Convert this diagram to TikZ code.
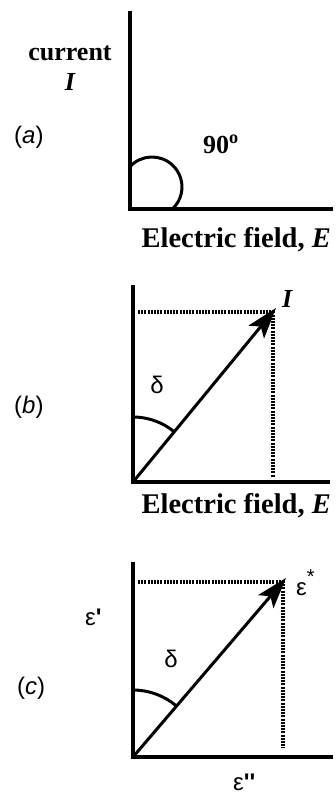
\documentclass[tikz,border=0pt]{standalone}
\usepackage{fontspec}
\setmainfont{Liberation Serif}
\newfontfamily\arialf{Liberation Sans}
\usetikzlibrary{arrows.meta}
\tikzset{
  axis/.style={line width=3.3pt, line join=miter},
  guide/.style={line width=3.2pt, dash pattern=on 2pt off 1.2pt},
  vec/.style={line width=3pt, -{Stealth[length=31pt, width=20pt, inset=7pt]}},
  anglearc/.style={line width=3pt},
  boldlbl/.style={inner sep=0pt, font=\fontsize{26}{28}\selectfont\bfseries},
  biglbl/.style={inner sep=0pt, font=\fontsize{28.5}{30}\selectfont\bfseries},
  paneltag/.style={inner sep=0pt, font=\arialf\fontsize{24}{26}\selectfont},
  greek/.style={inner sep=0pt, font=\arialf\fontsize{24}{26}\selectfont},
}
\begin{document}
\begin{tikzpicture}[x=1pt,y=-1pt]
\useasboundingbox (0,0) rectangle (336,796);
% ---------- panel (a)
\coordinate (atop) at (130,11);
\coordinate (ao) at (130,209);
\coordinate (aright) at (333,209);
\coordinate (ac) at (152,187);
\draw[axis] (atop) -- (ao) -- (aright);
\draw[anglearc] (ac) ++(-137.2:30) arc[start angle=-137.2, end angle=47.2, radius=30];
\node[boldlbl, anchor=base] (acur) at (70,60) {current};
\node[boldlbl, anchor=base] (aI) at (70,90) {\itshape I};
\node[paneltag, anchor=base west] (atag) at (14,143) {(\textit{a})};
\node[boldlbl, anchor=base west] (a90) at (203,153) {90\textsuperscript{o}};
\node[biglbl, anchor=base east] (aE) at (331,247) {Electric field, \textit{E}};
% ---------- panel (b)
\coordinate (btop) at (133,285);
\coordinate (bo) at (133,482);
\coordinate (bright) at (330,482);
\coordinate (bh0) at (138,312);
\coordinate (bc) at (273,312);
\coordinate (bv1) at (273,477);
\coordinate (btip) at (276,308);
\draw[axis] (btop) -- (bo) -- (bright);
\draw[guide] (bh0) -- (bc) -- (bv1);
\draw[vec] (bo) -- (btip);
\draw[anglearc] (bo) ++(-90:65) arc[start angle=-90, end angle=-50.5, radius=65];
\node[greek, anchor=center] (bd) at (157,385) {δ};
\node[boldlbl, anchor=base west] (bI) at (282,307) {\itshape I};
\node[paneltag, anchor=base west] (btag) at (14,413) {(\textit{b})};
\node[biglbl, anchor=base east] (bE) at (331,513) {Electric field, \textit{E}};
% ---------- panel (c)
\coordinate (ctop) at (133,562);
\coordinate (co) at (133,757);
\coordinate (cright) at (333,757);
\coordinate (ch0) at (138,582);
\coordinate (cc) at (283,582);
\coordinate (cv1) at (283,748);
\coordinate (ctip) at (286,578);
\draw[axis] (ctop) -- (co) -- (cright);
\draw[guide] (ch0) -- (cc) -- (cv1);
\draw[vec] (co) -- (ctip);
\draw[anglearc] (co) ++(-90:67) arc[start angle=-90, end angle=-50, radius=67];
\node[greek, anchor=center] (cd) at (171,659) {δ};
\node[greek, anchor=base west] (cstar) at (296,595) {ε\raisebox{0.5em}{\fontsize{20}{22}\selectfont *}};
\node[greek, anchor=base west] (cprime) at (85,625) {ε\textbf{'}};
\node[paneltag, anchor=base west] (ctag) at (17,694) {(\textit{c})};
\node[greek, anchor=base west] (cpp) at (233,790) {ε\textbf{''}};
\end{tikzpicture}
\end{document}
